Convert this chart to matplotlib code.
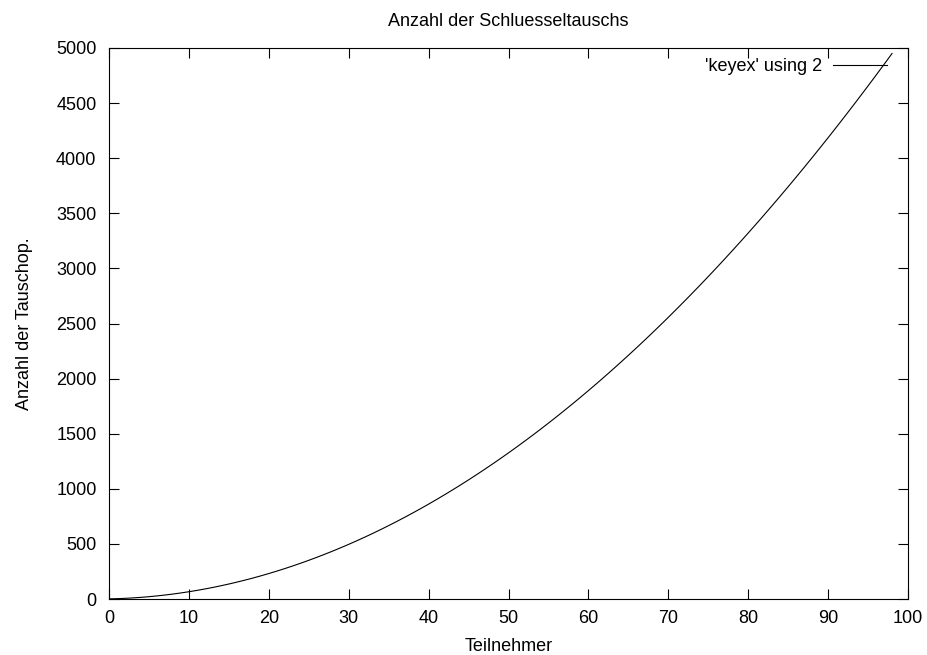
import matplotlib
matplotlib.use("Agg")
import matplotlib.pyplot as plt
from matplotlib.ticker import MultipleLocator

plt.rcParams['font.family'] = ['Liberation Sans', 'DejaVu Sans']

# row index (gnuplot "using 2" -> x is the line number)
rows = list(range(99))
# number of key exchanges per row
keyex = [
    1, 3, 6, 10, 15, 21, 28, 36, 45, 55,
    66, 78, 91, 105, 120, 136, 153, 171, 190, 210,
    231, 253, 276, 300, 325, 351, 378, 406, 435, 465,
    496, 528, 561, 595, 630, 666, 703, 741, 780, 820,
    861, 903, 946, 990, 1035, 1081, 1128, 1176, 1225, 1275,
    1326, 1378, 1431, 1485, 1540, 1596, 1653, 1711, 1770, 1830,
    1891, 1953, 2016, 2080, 2145, 2211, 2278, 2346, 2415, 2485,
    2556, 2628, 2701, 2775, 2850, 2926, 3003, 3081, 3160, 3240,
    3321, 3403, 3486, 3570, 3655, 3741, 3828, 3916, 4005, 4095,
    4186, 4278, 4371, 4465, 4560, 4656, 4753, 4851, 4950,
]

title = "Anzahl der Schluesseltauschs"
xlabel = "Teilnehmer"
ylabel = "Anzahl der Tauschop."
legend_label = "'keyex' using 2"

fs = 13

fig = plt.figure(figsize=(9.27, 6.55), dpi=100)
ax = fig.add_axes([109 / 927, 56 / 655, 799 / 927, 551 / 655])

ax.plot(rows, keyex, color='black', linewidth=0.8, label=legend_label)

ax.set_xlim(0, 100)
ax.set_ylim(0, 5000)
ax.xaxis.set_major_locator(MultipleLocator(10))
ax.yaxis.set_major_locator(MultipleLocator(500))
ax.tick_params(direction='in', top=True, right=True, length=7, width=0.8,
               labelsize=fs)
ax.tick_params(axis='x', pad=8)
ax.tick_params(axis='y', pad=9)
for s in ax.spines.values():
    s.set_linewidth(0.8)

ax.set_title(title, fontsize=fs, pad=16)
ax.set_xlabel(xlabel, fontsize=fs, labelpad=8)
ax.set_ylabel(ylabel, fontsize=fs, labelpad=17)

leg = ax.legend(loc='upper right', frameon=False, fontsize=fs,
                markerfirst=False, handlelength=3.0, handletextpad=0.6,
                borderaxespad=0, borderpad=0,
                bbox_to_anchor=(0.9737, 0.982))

fig.savefig("out.png", dpi=100)
